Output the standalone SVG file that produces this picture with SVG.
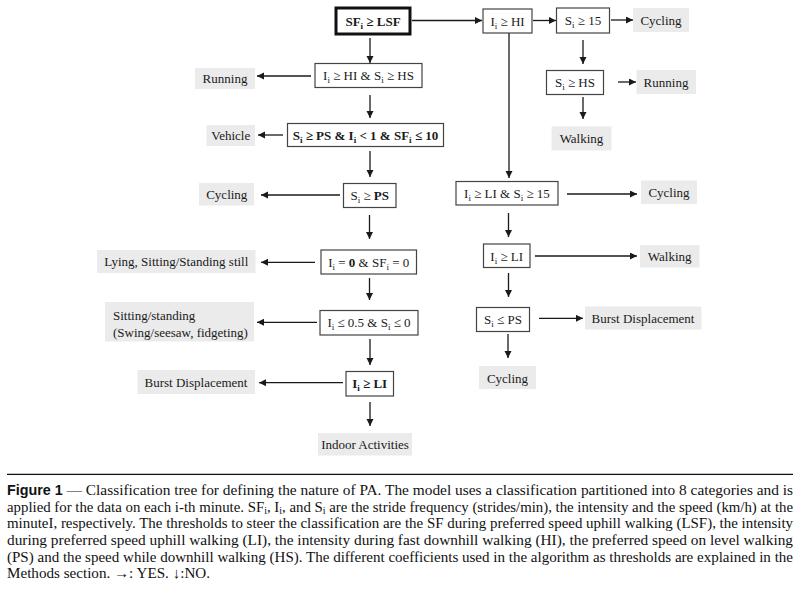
<svg xmlns="http://www.w3.org/2000/svg" width="805" height="592" viewBox="0 0 805 592">
<style>
.bx{fill:#fff;stroke:#444;stroke-width:1.2}
.lb{fill:#ebebeb;stroke:none}
.t{font-family:"Liberation Serif","Times New Roman",serif;font-size:13px;fill:#1a1a1a;text-anchor:middle}
.tl{font-family:"Liberation Serif","Times New Roman",serif;font-size:13px;fill:#1a1a1a}
.b{font-weight:bold}
.s{font-size:9px}
.c{stroke:#1a1a1a;stroke-width:1.3;fill:none;marker-end:url(#ah)}
.cap{font-family:"Liberation Serif","Times New Roman",serif;font-size:15px;fill:#111}
.cs{font-size:10px}
</style>
<defs>
<marker id="ah" markerUnits="userSpaceOnUse" markerWidth="8" markerHeight="8" refX="7" refY="3.5" orient="auto">
<path d="M0,0 L7,3.5 L0,7 z" fill="#1a1a1a"/>
</marker>
</defs>
<rect width="805" height="592" fill="#fff"/>

<g id="connectors">
<line class="c" x1="412" y1="20.5" x2="482" y2="20.5"/>
<line class="c" x1="533" y1="20.5" x2="556" y2="20.5"/>
<line class="c" x1="611" y1="20" x2="633" y2="20"/>
<line class="c" x1="583" y1="40" x2="583" y2="64"/>
<line class="c" x1="618" y1="82" x2="636" y2="82"/>
<line class="c" x1="583" y1="97" x2="583" y2="119"/>
<line class="c" x1="509" y1="33" x2="509" y2="178"/>
<line class="c" x1="370" y1="38" x2="370" y2="63"/>
<line class="c" x1="311" y1="76" x2="257" y2="76"/>
<line class="c" x1="370" y1="95" x2="370" y2="118"/>
<line class="c" x1="283" y1="135" x2="258" y2="135"/>
<line class="c" x1="370" y1="151" x2="370" y2="177"/>
<line class="c" x1="340" y1="195" x2="261" y2="195"/>
<line class="c" x1="369.5" y1="215" x2="369.5" y2="239"/>
<line class="c" x1="315" y1="262.3" x2="261" y2="262.3"/>
<line class="c" x1="369.5" y1="278" x2="369.5" y2="300"/>
<line class="c" x1="317" y1="322.3" x2="257" y2="322.3"/>
<line class="c" x1="370" y1="339" x2="370" y2="365"/>
<line class="c" x1="343" y1="382.7" x2="259" y2="382.7"/>
<line class="c" x1="370" y1="402" x2="370" y2="426"/>
<line class="c" x1="567" y1="194" x2="637" y2="194"/>
<line class="c" x1="508.5" y1="213" x2="508.5" y2="237"/>
<line class="c" x1="535" y1="256" x2="637" y2="256"/>
<line class="c" x1="508.5" y1="273" x2="508.5" y2="297"/>
<line class="c" x1="539" y1="318.3" x2="583" y2="318.3"/>
<line class="c" x1="508" y1="334" x2="508" y2="358"/>
</g>

<g id="n_sf"><rect x="336" y="8" width="74" height="26" fill="#fff" stroke="#111" stroke-width="3"/>
<text class="t b" x="373" y="25.5">SF<tspan class="s" dy="3">i</tspan><tspan dy="-3"> ≥ LSF</tspan></text></g>
<g id="n_hi"><rect class="bx" x="483" y="9" width="49" height="24"/>
<text class="t" x="507.5" y="25.5">I<tspan class="s" dy="3">i</tspan><tspan dy="-3"> ≥ HI</tspan></text></g>
<g id="n_s15"><rect class="bx" x="556.5" y="8" width="53" height="25"/>
<text class="t" x="583" y="25">S<tspan class="s" dy="3">i</tspan><tspan dy="-3"> ≥ 15</tspan></text></g>
<g id="l_cycling1"><rect class="lb" x="633" y="8" width="56" height="24"/>
<text class="t" x="661" y="24.5">Cycling</text></g>
<g id="n_shs"><rect class="bx" x="546.5" y="70.5" width="57" height="24"/>
<text class="t" x="575" y="87">S<tspan class="s" dy="3">i</tspan><tspan dy="-3"> ≥ HS</tspan></text></g>
<g id="l_running2"><rect class="lb" x="636.5" y="70" width="59.5" height="24"/>
<text class="t" x="666" y="86.5">Running</text></g>
<g id="l_walking1"><rect class="lb" x="551.5" y="126.5" width="60" height="24"/>
<text class="t" x="581.5" y="143">Walking</text></g>

<g id="n_hihs"><rect class="bx" x="315" y="63.5" width="107" height="24"/>
<text class="t" x="368.5" y="80">I<tspan class="s" dy="3">i</tspan><tspan dy="-3"> ≥ HI  &amp; S</tspan><tspan class="s" dy="3">i</tspan><tspan dy="-3"> ≥ HS</tspan></text></g>
<g id="l_running1"><rect class="lb" x="195" y="68" width="60" height="21"/>
<text class="t" x="225" y="83">Running</text></g>
<g id="n_veh"><rect class="bx" x="287.5" y="123.5" width="156" height="23"/>
<text class="t b" x="365.5" y="140">S<tspan class="s" dy="3">i</tspan><tspan dy="-3"> ≥ PS &amp; I</tspan><tspan class="s" dy="3">i</tspan><tspan dy="-3"> &lt; 1 &amp; SF</tspan><tspan class="s" dy="3">i</tspan><tspan dy="-3"> ≤ 10</tspan></text></g>
<g id="l_vehicle"><rect class="lb" x="206.5" y="125" width="48.5" height="21"/>
<text class="t" x="230.7" y="140">Vehicle</text></g>
<g id="n_ps"><rect class="bx" x="343.5" y="183.5" width="52.5" height="24"/>
<text class="t" x="369.7" y="200">S<tspan class="s" dy="3">i</tspan><tspan dy="-3"> ≥ </tspan><tspan class="b">PS</tspan></text></g>
<g id="l_cycling2"><rect class="lb" x="199" y="183" width="55" height="22.5"/>
<text class="t" x="226.8" y="199">Cycling</text></g>
<g id="n_zero"><rect class="bx" x="321" y="250" width="95.5" height="24"/>
<text class="t" x="368.7" y="266.5">I<tspan class="s" dy="3">i</tspan><tspan dy="-3"> = </tspan><tspan class="b">0</tspan> &amp; SF<tspan class="s" dy="3">i</tspan><tspan dy="-3"> = 0</tspan></text></g>
<g id="l_lying"><rect class="lb" x="97" y="250" width="158.5" height="23"/>
<text class="t" x="176.3" y="266">Lying, Sitting/Standing still</text></g>
<g id="n_le"><rect class="bx" x="320" y="310.5" width="98" height="24.5"/>
<text class="t" x="369" y="327">I<tspan class="s" dy="3">i</tspan><tspan dy="-3"> ≤ 0.5 &amp; S</tspan><tspan class="s" dy="3">i</tspan><tspan dy="-3"> ≤ 0</tspan></text></g>
<g id="l_sitting"><rect class="lb" x="105" y="302" width="149" height="39.5"/>
<text class="tl" x="113" y="319.5">Sitting/standing</text>
<text class="tl" x="113" y="337">(Swing/seesaw, fidgeting)</text></g>
<g id="n_li"><rect class="bx" x="346" y="371.5" width="47.5" height="24.5"/>
<text class="t b" x="369.7" y="388">I<tspan class="s" dy="3">i</tspan><tspan dy="-3"> ≥ LI</tspan></text></g>
<g id="l_burst1"><rect class="lb" x="137.5" y="370" width="117.5" height="24"/>
<text class="t" x="196" y="386.5">Burst Displacement</text></g>
<g id="l_indoor"><rect class="lb" x="318" y="433" width="94" height="22.5"/>
<text class="t" x="365" y="449">Indoor Activities</text></g>

<g id="n_lis15"><rect class="bx" x="456" y="181.5" width="102" height="23.5"/>
<text class="t" x="507" y="198">I<tspan class="s" dy="3">i</tspan><tspan dy="-3"> ≥ LI  &amp; S</tspan><tspan class="s" dy="3">i</tspan><tspan dy="-3"> ≥ 15</tspan></text></g>
<g id="l_cycling3"><rect class="lb" x="641" y="180.5" width="56" height="23.5"/>
<text class="t" x="669" y="197">Cycling</text></g>
<g id="n_li2"><rect class="bx" x="483.5" y="244" width="46.5" height="23.5"/>
<text class="t" x="506.7" y="260.5">I<tspan class="s" dy="3">i</tspan><tspan dy="-3"> ≥ LI</tspan></text></g>
<g id="l_walking2"><rect class="lb" x="640" y="245" width="59.5" height="22.5"/>
<text class="t" x="669.7" y="261">Walking</text></g>
<g id="n_sps"><rect class="bx" x="476.5" y="307.5" width="53" height="24"/>
<text class="t" x="503" y="324">S<tspan class="s" dy="3">i</tspan><tspan dy="-3"> ≤ PS</tspan></text></g>
<g id="l_burst2"><rect class="lb" x="585" y="306.5" width="116.5" height="23"/>
<text class="t" x="643" y="322.5">Burst Displacement</text></g>
<g id="l_cycling4"><rect class="lb" x="479" y="366" width="57" height="23"/>
<text class="t" x="507.5" y="382.5">Cycling</text></g>

<g id="caption">
<line x1="7" y1="474.3" x2="793" y2="474.3" stroke="#111" stroke-width="1.3"/>
<text class="cap" x="7" y="495" textLength="786" lengthAdjust="spacingAndGlyphs"><tspan font-family="'Liberation Sans',Arial,sans-serif" font-weight="bold" font-size="14">Figure 1</tspan> — Classification tree for defining the nature of PA. The model uses a classification partitioned into 8 categories and is</text>
<text class="cap" x="7" y="511.7" textLength="786" lengthAdjust="spacingAndGlyphs">applied for the data on each i-th minute. SF<tspan class="cs" dy="2">i</tspan><tspan dy="-2">, I</tspan><tspan class="cs" dy="2">i</tspan><tspan dy="-2">, and S</tspan><tspan class="cs" dy="2">i</tspan><tspan dy="-2"> are the stride frequency (strides/min), the intensity and the speed (km/h) at the</tspan></text>
<text class="cap" x="7" y="528.3" textLength="786" lengthAdjust="spacingAndGlyphs">minuteI, respectively. The thresholds to steer the classification are the SF during preferred speed uphill walking (LSF), the intensity</text>
<text class="cap" x="7" y="545" textLength="786" lengthAdjust="spacingAndGlyphs">during preferred speed uphill walking (LI), the intensity during fast downhill walking (HI), the preferred speed on level walking</text>
<text class="cap" x="7" y="561.7" textLength="786" lengthAdjust="spacingAndGlyphs">(PS) and the speed while downhill walking (HS). The different coefficients used in the algorithm as thresholds are explained in the</text>
<text class="cap" x="7" y="578.3" textLength="203" lengthAdjust="spacingAndGlyphs">Methods section. →: YES. ↓:NO.</text>
</g>
</svg>
